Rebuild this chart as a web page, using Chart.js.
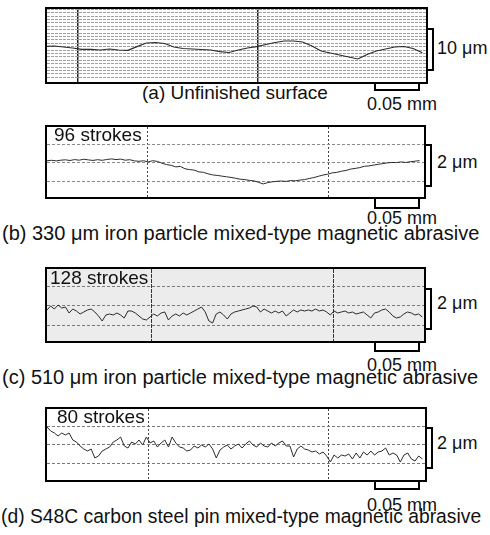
<!DOCTYPE html>
<html>
<head>
<meta charset="utf-8">
<script src="https://cdn.jsdelivr.net/npm/chart.js@4/dist/chart.umd.min.js"></script>
<style>
  html, body { margin:0; padding:0; background:#fff; }
  body { width:490px; height:535px; position:relative; overflow:hidden;
         font-family:"Liberation Sans", Arial, Helvetica, sans-serif; color:#111; }
  .box { position:absolute; border:2px solid #000; }
  .box canvas { position:absolute; left:0; top:0; }
  .lbl { position:absolute; font-size:18px; line-height:20px; white-space:nowrap; z-index:5; }
  .cap { font-size:20px; }
  .stk { font-size:19px; }
  .vbar { position:absolute; border:2px solid #000; border-left:none; width:4px; }
  .hbar { position:absolute; border:2px solid #000; border-top:none; width:42px; }
</style>
</head>
<body>

<div class="box" id="boxA" style="left:45px;top:7px;width:379px;height:73px;"><canvas id="cA" width="379" height="73"></canvas></div>
<div class="vbar" style="left:428px;top:28px;height:39px;"></div>
<div class="hbar" style="left:374px;top:84px;height:5px;"></div>
<div class="lbl" style="left:437px;top:38px;">10 μm</div>
<div class="lbl" style="left:142px;top:83px;font-size:19px;">(a) Unfinished surface</div>
<div class="lbl" style="left:367px;top:94px;">0.05 mm</div>

<div class="box" id="boxB" style="left:45px;top:125px;width:377px;height:70px;"><canvas id="cB" width="377" height="70"></canvas></div>
<div class="vbar" style="left:426px;top:144px;height:39px;"></div>
<div class="hbar" style="left:374px;top:199px;height:8px;"></div>
<div class="lbl stk" style="left:54px;top:125px;">96 strokes</div>
<div class="lbl" style="left:437px;top:152px;">2 μm</div>
<div class="lbl" style="left:367px;top:208px;">0.05 mm</div>
<div class="lbl cap" style="left:2px;top:223px;">(b) 330 μm iron particle mixed-type magnetic abrasive</div>

<div class="box" id="boxC" style="left:45px;top:267px;width:377px;height:72px;background:#ececec;"><canvas id="cC" width="377" height="72"></canvas></div>
<div class="vbar" style="left:426px;top:288px;height:38px;"></div>
<div class="hbar" style="left:374px;top:343px;height:7px;"></div>
<div class="lbl stk" style="left:50px;top:268px;">128 strokes</div>
<div class="lbl" style="left:437px;top:293px;">2 μm</div>
<div class="lbl" style="left:367px;top:355px;">0.05 mm</div>
<div class="lbl cap" style="left:2px;top:367px;">(c) 510 μm iron particle mixed-type magnetic abrasive</div>

<div class="box" id="boxD" style="left:45px;top:407px;width:378px;height:71px;"><canvas id="cD" width="378" height="71"></canvas></div>
<div class="vbar" style="left:427px;top:427px;height:38px;"></div>
<div class="hbar" style="left:374px;top:482px;height:6px;"></div>
<div class="lbl stk" style="left:57px;top:407px;">80 strokes</div>
<div class="lbl" style="left:437px;top:433px;">2 μm</div>
<div class="lbl" style="left:367px;top:495px;">0.05 mm</div>
<div class="lbl cap" style="left:1px;top:507px;font-size:19.3px;">(d) S48C carbon steel pin mixed-type magnetic abrasive</div>

<script>
// ---- Data (x in mm along the surface, y in μm) ----
// (a) unfinished surface: height above the frame bottom, sampled every 0.01 mm
const stepA = 0.01, startA = 0.0;
const profileA = [8.72,8.84,8.61,8.37,8.07,8.07,7.91,8.14,7.91,7.84,8.68,9.54,9.65,9.42,8.61,8.26,8.14,8.02,7.91,7.51,
  7.33,7.91,8.37,8.68,9.19,9.65,10.00,10.00,9.77,8.84,7.68,7.21,6.75,6.28,5.82,6.86,7.68,8.14,8.61,8.72,8.26,7.28];
const gridXA = [0.0359, 0.2315];

// (b) 96 strokes: height relative to mean line, every 0.005 mm
const stepB = 0.005, startB = 0.00217;
const profileB = [0.060,0.079,0.051,0.084,0.102,0.070,0.112,0.084,0.130,0.098,0.074,0.107,0.079,0.116,0.144,0.112,0.135,0.084,0.107,0.051,
  0.033,0.056,0.005,0.060,0.028,-0.056,-0.121,-0.153,-0.228,-0.205,-0.316,-0.353,-0.377,-0.460,-0.479,-0.549,-0.600,-0.623,-0.656,-0.688,
  -0.716,-0.758,-0.800,-0.818,-0.856,-0.879,-0.945,-1.019,-0.958,-0.921,-0.897,-0.884,-0.902,-0.865,-0.874,-0.842,-0.818,-0.767,-0.725,-0.665,
  -0.609,-0.567,-0.507,-0.484,-0.428,-0.395,-0.330,-0.298,-0.260,-0.200,-0.181,-0.144,-0.107,-0.074,-0.042,-0.019,-0.028,0.005,-0.023,0.014,
  0.037,0.065];
const gridXB = [0.1109, 0.3087];
const gridYB = [0.837, 0, -0.884];

// (c) 128 strokes: every 0.004 mm
const stepC = 0.004, startC = 0.00217;
const profileC = [-0.186,0,-0.140,0.047,-0.093,-0.047,-0.326,-0.140,-0.233,-0.372,-0.279,-0.186,-0.140,-0.279,-0.465,-0.698,-0.419,-0.372,-0.419,-0.326,
  -0.419,-0.558,-0.233,-0.233,-0.326,-0.465,-0.605,-0.651,-0.512,-0.372,-0.465,-0.326,-0.279,-0.651,-0.465,-0.372,-0.465,-0.326,-0.419,-0.326,
  -0.233,-0.140,-0.047,-0.279,-0.698,-0.791,-0.372,-0.279,-0.419,-0.605,-0.372,-0.279,-0.233,-0.186,-0.140,-0.093,0,-0.047,-0.279,-0.140,
  -0.233,-0.326,-0.233,-0.326,-0.233,-0.465,-0.326,-0.186,-0.279,-0.186,-0.233,-0.186,-0.233,-0.140,-0.233,-0.186,-0.279,-0.419,-0.233,-0.326,
  -0.279,-0.233,-0.326,-0.279,-0.372,-0.326,-0.279,-0.419,-0.558,-0.326,-0.279,-0.186,-0.140,-0.279,-0.465,-0.558,-0.512,-0.372,-0.279,-0.326,
  -0.419,-0.372,-0.512];
const gridXC = [0.1163, 0.3131];
const gridYC = [0.884, 0, -0.884];

// (d) 80 strokes: every 0.004 mm
const stepD = 0.004, startD = 0.00217;
const profileD = [0.791,0.605,0.512,0.372,0.512,0.419,0.512,0.186,0.093,-0.093,-0.233,-0.326,-0.233,-0.651,-0.558,-0.326,-0.233,-0.140,0.093,0.186,
  0.326,-0.093,-0.186,0.093,0,0.186,-0.047,0.326,0.047,0.140,-0.140,0.047,0.186,-0.140,0.326,0.047,-0.140,-0.186,-0.326,-0.279,
  -0.093,-0.186,-0.047,-0.140,0,-0.233,-0.651,-0.279,-0.140,-0.047,-0.233,-0.093,0,-0.186,0,0.140,-0.047,-0.140,0.047,-0.093,
  -0.140,0.047,-0.093,0.047,0.140,-0.093,-0.093,-0.605,-0.233,-0.093,-0.233,-0.279,-0.372,-0.326,-0.465,-0.372,-0.558,-0.837,-0.512,-0.651,
  -0.512,-0.558,-0.465,-0.698,-0.419,-0.651,-0.372,-0.512,-0.326,-0.512,-0.372,-0.326,-0.186,-0.512,-0.419,-0.512,-0.837,-0.512,-0.419,-0.698,
  -0.791,-0.558,-0.698];
const gridXD = [0.1120, 0.3076];
const gridYD = [0.837, 0, -0.884];

function points(start, step, vals) {
  return vals.map((v, i) => ({ x: start + i * step, y: v }));
}

function panel(id, start, step, vals, xr, yr, gx, gy, opt) {
  const yScale = {
    type: 'linear', min: yr[0], max: yr[1],
    ticks: { display: false },
    grid: { drawTicks: false, color: opt.hColor, lineWidth: 1 },
    border: { display: false, dash: opt.hDash }
  };
  if (gy) {
    yScale.afterBuildTicks = s => { s.ticks = gy.map(v => ({ value: v })); };
  } else {
    yScale.ticks.stepSize = opt.yStep;
  }
  return new Chart(document.getElementById(id), {
    type: 'line',
    data: { datasets: [{
      data: points(start, step, vals),
      borderColor: '#2b2b2b', borderWidth: opt.lw || 1, pointRadius: 0, tension: 0, fill: false
    }] },
    options: {
      responsive: false, animation: false, events: [],
      layout: { padding: 0 },
      plugins: { legend: { display: false }, tooltip: { enabled: false } },
      scales: {
        x: {
          type: 'linear', min: xr[0], max: xr[1],
          ticks: { display: false },
          grid: { drawTicks: false, color: opt.vColor, lineWidth: opt.vWidth || 1 },
          border: { display: false, dash: opt.vDash },
          afterBuildTicks: s => { s.ticks = gx.map(v => ({ value: v })); }
        },
        y: yScale
      }
    }
  });
}

panel('cA', startA, stepA, profileA, [0.00217, 0.414], [0.465, 17.44], gridXA, null,
  { hColor: '#a0a0a0', hDash: [3, 1], yStep: 0.79, vColor: '#222', vDash: [], vWidth: 1.5, lw: 1.2 });
panel('cB', startB, stepB, profileB, [0.00217, 0.412], [-1.628, 1.628], gridXB, gridYB,
  { hColor: '#8a8a8a', hDash: [3, 2], vColor: '#444', vDash: [2, 2] });
panel('cC', startC, stepC, profileC, [0.00217, 0.412], [-1.628, 1.72], gridXC, gridYC,
  { hColor: '#7a7a7a', hDash: [3, 2], vColor: '#333', vDash: [4, 1] });
panel('cD', startD, stepD, profileD, [0.00217, 0.413], [-1.674, 1.628], gridXD, gridYD,
  { hColor: '#7a7a7a', hDash: [3, 2], vColor: '#444', vDash: [2, 2] });
</script>
</body>
</html>
